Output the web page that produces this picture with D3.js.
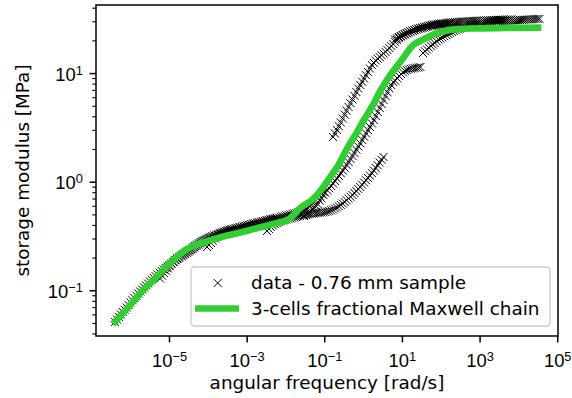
<!DOCTYPE html>
<html>
<head>
<meta charset="utf-8">
<script src="https://cdn.jsdelivr.net/npm/d3@7"></script>
<style>
    html, body { margin: 0; padding: 0; background: #fff; }
    svg { display: block; font-family: "DejaVu Sans", sans-serif; }
</style>
</head>
<body>
<div id="chart"></div>
<script>
// measured frequency grid of one sweep [rad/s], 20 points per decade
var FREQ = [0.1, 0.1122, 0.1259, 0.1413, 0.1585, 0.1778, 0.1995, 0.2239, 0.2512, 0.2818,
            0.3162, 0.3548, 0.3981, 0.4467, 0.5012, 0.5623, 0.631, 0.7079, 0.7943, 0.8913,
            1, 1.122, 1.259, 1.413, 1.585, 1.778, 1.995, 2.239, 2.512, 2.818,
            3.162, 3.548, 3.981, 4.467, 5.012, 5.623, 6.31, 7.079, 7.943, 8.913,
            10, 11.22, 12.59, 14.13, 15.85, 17.78, 19.95, 22.39, 25.12, 28.18,
            31.62, 35.48, 39.81, 44.67, 50.12, 56.23, 63.1, 70.79, 79.43, 89.13, 100];

// horizontal shift factor of each sweep (master curve)
var SHIFT = [4.07e-6, 5.87e-5, 9.53e-4, 0.0335, 0.300, 1.68, 66.3, 349];

// storage modulus of each sweep [MPa]
var G_1 = [0.0511, 0.0539, 0.0568, 0.0599, 0.0631, 0.0662, 0.0694, 0.0732, 0.0772, 0.0810,
           0.0849, 0.0891, 0.0934, 0.0975, 0.1017, 0.1061, 0.1107, 0.1155, 0.1205, 0.1251,
           0.1298, 0.1347, 0.1398, 0.1451, 0.1506, 0.1554, 0.1604, 0.1656, 0.1709, 0.1765,
           0.1823, 0.1882, 0.1942, 0.1994, 0.2048, 0.2103, 0.2159, 0.2217, 0.2277, 0.2338,
           0.2401, 0.2477, 0.2555, 0.2629, 0.2704, 0.2776, 0.2848, 0.2910, 0.2972, 0.3020,
           0.3068, 0.3117, 0.3167, 0.3218, 0.3270, 0.3322, 0.3374, 0.3429, 0.3484, 0.3521, 0.3558];
var G_2 = [0.1284, 0.1364, 0.1443, 0.1515, 0.1587, 0.1667, 0.1746, 0.1824, 0.1901, 0.1964,
           0.2026, 0.2093, 0.2159, 0.2218, 0.2277, 0.2339, 0.2400, 0.2478, 0.2555, 0.2630,
           0.2704, 0.2777, 0.2849, 0.2911, 0.2972, 0.3037, 0.3102, 0.3152, 0.3202, 0.3253,
           0.3304, 0.3358, 0.3412, 0.3467, 0.3522, 0.3560, 0.3597, 0.3636, 0.3674, 0.3714,
           0.3753, 0.3793, 0.3833, 0.3875, 0.3916, 0.3958, 0.3999, 0.4042, 0.4085, 0.4129,
           0.4173, 0.4218, 0.4262, 0.4308, 0.4353, 0.4400, 0.4446, 0.4470, 0.4494, 0.4543, 0.4591];
var G_3 = [0.2505, 0.2615, 0.2726, 0.2860, 0.2995, 0.3100, 0.3204, 0.3289, 0.3374, 0.3429,
           0.3484, 0.3540, 0.3597, 0.3636, 0.3674, 0.3714, 0.3753, 0.3793, 0.3833, 0.3875,
           0.3916, 0.3958, 0.3999, 0.4042, 0.4085, 0.4129, 0.4173, 0.4218, 0.4262, 0.4308,
           0.4353, 0.4400, 0.4446, 0.4494, 0.4542, 0.4591, 0.4640, 0.4690, 0.4739, 0.4790,
           0.4840, 0.4893, 0.4945, 0.4998, 0.5050, 0.5105, 0.5159, 0.5215, 0.5270, 0.5400,
           0.5535, 0.5630, 0.5727, 0.5975, 0.6233, 0.6502, 0.6783, 0.7077, 0.7384, 0.7705, 0.8039];
var G_4 = [0.3516, 0.3671, 0.3827, 0.3952, 0.4078, 0.4166, 0.4255, 0.4324, 0.4393, 0.4440,
           0.4487, 0.4535, 0.4584, 0.4632, 0.4681, 0.4731, 0.4782, 0.4833, 0.4885, 0.4911,
           0.4937, 0.4990, 0.5043, 0.5069, 0.5096, 0.5123, 0.5151, 0.5178, 0.5206, 0.5233,
           0.5260, 0.5317, 0.5374, 0.5459, 0.5546, 0.5666, 0.5788, 0.5942, 0.6101, 0.6298,
           0.6501, 0.6747, 0.7003, 0.7269, 0.7545, 0.7872, 0.8212, 0.8567, 0.8937, 0.9373,
           0.9831, 1.031, 1.082, 1.140, 1.202, 1.268, 1.337, 1.417, 1.502, 1.592, 1.688];
var G_5 = [0.4833, 0.4963, 0.5096, 0.5261, 0.5607, 0.5788, 0.6006, 0.6233, 0.6696, 0.7024,
           0.7545, 0.7913, 0.8299, 0.8704, 0.9129, 0.9626, 1.015, 1.070, 1.128, 1.196,
           1.268, 1.344, 1.425, 1.518, 1.618, 1.724, 1.837, 1.969, 2.110, 2.260,
           2.421, 2.594, 2.779, 2.977, 3.189, 3.435, 3.700, 4.027, 4.383, 4.771,
           5.194, 5.653, 6.153, 6.663, 7.215, 7.729, 8.279, 8.500, 8.960, 9.400,
           9.810, 10.15, 10.43, 10.65, 10.82, 10.96, 11.05, 11.12, 11.20, 11.28, 11.38];
var G_6 = [2.580, 2.779, 2.993, 3.241, 3.509, 3.819, 4.157, 4.501, 4.874, 5.277,
           5.713, 6.186, 6.698, 7.214, 7.770, 8.324, 8.918, 9.551, 10.23, 11.02,
           11.87, 12.45, 13.06, 13.56, 14.07, 14.60, 15.15, 15.72, 16.32, 17.03,
           17.77, 18.54, 19.34, 20.18, 21.05, 21.61, 22.19, 22.66, 23.15, 23.65,
           24.16, 24.55, 24.94, 25.21, 25.48, 25.75, 26.02, 26.30, 26.58, 26.86,
           27.15, 27.29, 27.44, 27.58, 27.73, 27.88, 28.03, 28.17, 28.32, 28.47, 28.63];
var G_7 = [20.35, 20.92, 21.50, 21.96, 22.43, 22.91, 23.40, 23.78, 24.16, 24.55,
           24.94, 25.34, 25.75, 26.02, 26.30, 26.58, 26.86, 27.15, 27.44, 27.73,
           28.03, 28.17, 28.32, 28.47, 28.63, 28.78, 28.93, 29.08, 29.24, 29.32,
           29.40, 29.47, 29.55, 29.63, 29.71, 29.79, 29.87, 29.94, 30.02, 30.10,
           30.18, 30.24, 30.30, 30.36, 30.42, 30.48, 30.55, 30.60, 30.64, 30.70,
           30.75, 30.80, 30.86, 30.90, 30.95, 31.00, 31.05, 31.09, 31.13, 31.18, 31.22];
var G_8 = [15.31, 15.90, 16.50, 17.13, 17.77, 18.35, 18.93, 19.64, 20.35, 20.81,
           21.27, 21.85, 22.43, 22.91, 23.40, 23.91, 24.42, 24.81, 25.21, 25.61,
           26.02, 26.30, 26.58, 26.86, 27.15, 27.44, 27.73, 28.02, 28.32, 28.47,
           28.63, 28.78, 28.93, 29.08, 29.24, 29.39, 29.55, 29.71, 29.87, 29.91,
           29.95, 30.06, 30.18, 30.24, 30.30, 30.40, 30.50, 30.56, 30.62, 30.72,
           30.83, 30.89, 30.95, 31.05, 31.16, 31.20, 31.25, 31.37, 31.49, 31.55, 31.60];
var SWEEPS = [G_1, G_2, G_3, G_4, G_5, G_6, G_7, G_8];

// 3-cells fractional Maxwell chain fit
var FIT_W = [4.07e-7, 1.0e-6, 2.16e-6, 4.88e-6, 1.07e-5, 3.52e-5, 9.10e-5, 2.49e-4, 6.84e-4, 1.84e-3,
             4.85e-3, 1.33e-2, 2.40e-2, 5.20e-2, 7.88e-2, 0.143, 0.258, 0.392, 0.630, 1.01,
             1.73, 2.77, 5.02, 9.08, 19.6, 35.6, 97.5, 177, 578, 4.90e3, 3.2e4];
var FIT_G = [0.0514, 0.0732, 0.1007, 0.1334, 0.1783, 0.2480, 0.2814, 0.3128, 0.3407, 0.3735,
             0.4077, 0.4616, 0.5727, 0.6933, 0.8211, 1.105, 1.518, 2.043, 2.692, 3.623,
             4.979, 6.842, 9.605, 12.65, 18.15, 20.39, 23.90, 24.94, 25.75, 26.02, 26.18];

// axes
var X_LIM    = [Math.pow(10, -6.88), Math.pow(10, 5.02)];
var Y_LIM    = [Math.pow(10, -1.421), Math.pow(10, 1.627)];
var X_TICKS  = [-5, -3, -1, 1, 3, 5];            // exponents
var Y_TICKS  = [-1, 0, 1];                       // exponents
var Y_MINOR  = [0.04, 0.05, 0.06, 0.07, 0.08, 0.09, 0.2, 0.3, 0.4, 0.5, 0.6, 0.7, 0.8, 0.9,
                2, 3, 4, 5, 6, 7, 8, 9, 20, 30, 40];
var X_LABEL  = "angular frequency [rad/s]";
var Y_LABEL  = "storage modulus [MPa]";
var LEGEND   = ["data - 0.76 mm sample", "3-cells fractional Maxwell chain"];

(function () {

    var W = 572, H = 398;
    var margin = { top: 5, right: 14, bottom: 62, left: 96 };
    var iW = W - margin.left - margin.right;
    var iH = H - margin.top - margin.bottom;
    var FS = 18.4;          // font size px
    var GREEN = "#32cd32";

    var svg = d3.select("#chart").append("svg")
        .attr("width", W).attr("height", H);
    svg.append("rect").attr("width", W).attr("height", H).attr("fill", "#fff");

    var g = svg.append("g")
        .attr("transform", "translate(" + margin.left + "," + margin.top + ")");

    var x = d3.scaleLog().domain(X_LIM).range([0, iW]);
    var y = d3.scaleLog().domain(Y_LIM).range([iH, 0]);

    g.append("defs").append("clipPath").attr("id", "clip")
        .append("rect").attr("width", iW).attr("height", iH);

    /* data points (shifted sweeps) */
    var pts = [];
    SWEEPS.forEach(function (arr, s) {
        arr.forEach(function (v, i) {
            pts.push({ w: FREQ[i] * SHIFT[s], g: v });
        });
    });

    var cross = "M-4,-4L4,4M-4,4L4,-4";
    g.append("g").attr("clip-path", "url(#clip)")
        .selectAll("path").data(pts).enter().append("path")
        .attr("transform", function (d) { return "translate(" + x(d.w) + "," + y(d.g) + ")"; })
        .attr("d", cross)
        .attr("fill", "none")
        .attr("stroke", "#000")
        .attr("stroke-width", 1);

    /* fit line */
    var fit = FIT_W.map(function (w, i) { return { w: w, g: FIT_G[i] }; });
    var line = d3.line()
        .x(function (d) { return x(d.w); })
        .y(function (d) { return y(d.g); })
        .curve(d3.curveMonotoneX);

    g.append("path").datum(fit)
        .attr("clip-path", "url(#clip)")
        .attr("fill", "none")
        .attr("stroke", GREEN)
        .attr("stroke-width", 6.7)
        .attr("stroke-linecap", "square")
        .attr("stroke-linejoin", "round")
        .attr("d", line);

    /* axes */
    function supLabel(sel, e) {
        sel.append("tspan").text("10");
        sel.append("tspan")
            .attr("dy", "-0.45em")
            .attr("font-size", "0.7em")
            .text(e < 0 ? "\u2212" + (-e) : String(e));
    }

    var ax = g.append("g").attr("transform", "translate(0," + iH + ")")
        .call(d3.axisBottom(x)
            .tickValues(X_TICKS.map(function (e) { return Math.pow(10, e); }))
            .tickSize(6.4).tickFormat(""));
    ax.select(".domain").remove();
    ax.selectAll(".tick line").attr("stroke", "#000").attr("stroke-width", 1.5);
    ax.selectAll(".tick").each(function (d, i) {
        var t = d3.select(this).append("text")
            .attr("y", 31).attr("text-anchor", "middle")
            .attr("fill", "#000").attr("font-size", FS);
        supLabel(t, X_TICKS[i]);
    });

    var ayMin = g.append("g")
        .call(d3.axisLeft(y).tickValues(Y_MINOR).tickSize(3.7).tickFormat(""));
    ayMin.select(".domain").remove();
    ayMin.selectAll(".tick line").attr("stroke", "#000").attr("stroke-width", 1.1);

    var ay = g.append("g")
        .call(d3.axisLeft(y)
            .tickValues(Y_TICKS.map(function (e) { return Math.pow(10, e); }))
            .tickSize(6.4).tickFormat(""));
    ay.select(".domain").remove();
    ay.selectAll(".tick line").attr("stroke", "#000").attr("stroke-width", 1.5);
    ay.selectAll(".tick").each(function (d, i) {
        var t = d3.select(this).append("text")
            .attr("x", -13).attr("y", 7).attr("text-anchor", "end")
            .attr("fill", "#000").attr("font-size", FS);
        supLabel(t, Y_TICKS[i]);
    });

    // spines
    g.append("rect")
        .attr("width", iW).attr("height", iH)
        .attr("fill", "none").attr("stroke", "#000").attr("stroke-width", 1.5);

    // axis labels
    g.append("text")
        .attr("x", iW / 2).attr("y", iH + 53)
        .attr("text-anchor", "middle").attr("font-size", FS).attr("fill", "#000")
        .text(X_LABEL);
    g.append("text")
        .attr("transform", "rotate(-90)")
        .attr("x", -iH / 2).attr("y", -67)
        .attr("text-anchor", "middle").attr("font-size", FS).attr("fill", "#000")
        .text(Y_LABEL);

    /* legend */
    var lg = svg.append("g").attr("transform", "translate(191,267)");
    lg.append("rect")
        .attr("width", 359).attr("height", 59).attr("rx", 3.7)
        .attr("fill", "#fff").attr("fill-opacity", 0.8)
        .attr("stroke", "#cccccc").attr("stroke-width", 1.3);
    lg.append("path")
        .attr("transform", "translate(26.7,16)")
        .attr("d", cross).attr("fill", "none")
        .attr("stroke", "#000").attr("stroke-width", 1);
    lg.append("line")
        .attr("x1", 4).attr("x2", 48).attr("y1", 41.5).attr("y2", 41.5)
        .attr("stroke", GREEN).attr("stroke-width", 6.7);
    lg.selectAll("text.lab").data(LEGEND).enter().append("text")
        .attr("class", "lab")
        .attr("x", 60).attr("y", function (d, i) { return 22 + i * 26; })
        .attr("font-size", FS).attr("fill", "#000")
        .text(function (d) { return d; });

}());
</script>
</body>
</html>
